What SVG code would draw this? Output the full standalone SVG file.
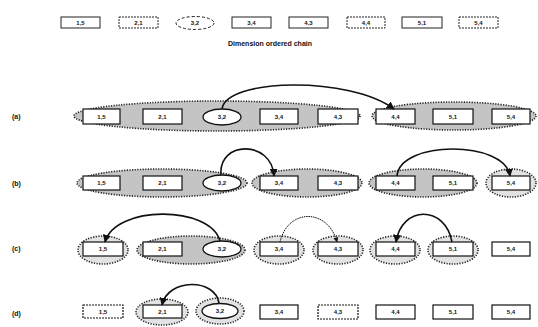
<svg xmlns="http://www.w3.org/2000/svg" width="538" height="327" viewBox="0 0 538 327">
<style>
.bx{fill:#fff;stroke:#111;stroke-width:1.2}
.tb{fill:#fff;stroke:#222;stroke-width:1}
.el{fill:#fff;stroke:#111;stroke-width:1.3}
.grp{fill:#c4c4c4;stroke:#222;stroke-width:1.6;stroke-dasharray:1.2 1.4}
.ring{fill:#e2e2e2;stroke:#222;stroke-width:1.6;stroke-dasharray:1.2 1.4}
.t{font-family:"Liberation Sans",Arial,sans-serif;font-size:6px;font-weight:bold;text-anchor:middle;fill:#111}
.rl{font-family:"Liberation Sans",Arial,sans-serif;font-size:7px;font-weight:bold;fill:#111}
.arc{fill:none;stroke:#111;stroke-width:1.6}
</style>
<defs>
<marker id="ah" viewBox="0 0 10 10" refX="9" refY="5" markerWidth="5" markerHeight="5" orient="auto">
<path d="M0,0 L10,5 L0,10 z" fill="#111"/>
</marker>
</defs>
<rect width="538" height="327" fill="#fff"/>

<g id="top">
<rect class="tb" x="61" y="17" width="39" height="11"/><text class="t" x="80.5" y="24.5">1,5</text>
<rect class="tb" x="119" y="17" width="39" height="11" stroke-dasharray="2 1"/><text class="t" x="138.5" y="24.5">2,1</text>
<ellipse class="tb" cx="195" cy="23" rx="19" ry="6.5" stroke-dasharray="3 2"/><text class="t" x="195" y="25">3,2</text>
<rect class="tb" x="232" y="17" width="39" height="11"/><text class="t" x="251.5" y="24.5">3,4</text>
<rect class="tb" x="289" y="17" width="39" height="11"/><text class="t" x="308.5" y="24.5">4,3</text>
<rect class="tb" x="347" y="17" width="38" height="11" stroke-dasharray="2 1"/><text class="t" x="366" y="24.5">4,4</text>
<rect class="tb" x="402" y="17" width="40" height="11"/><text class="t" x="422" y="24.5">5,1</text>
<rect class="tb" x="459" y="17" width="39" height="11" stroke-dasharray="2 1"/><text class="t" x="478.5" y="24.5">5,4</text>
<text class="t" x="270" y="46" style="font-size:7px">Dimension ordered chain</text>
</g>

<g id="row-a">
<text class="rl" x="12" y="119">(a)</text>
<ellipse class="grp" cx="217" cy="116" rx="143" ry="15"/>
<ellipse class="grp" cx="454" cy="116" rx="82" ry="14"/>
<rect class="bx" x="83" y="109" width="37" height="15"/><text class="t" x="101.5" y="118.5">1,5</text>
<rect class="bx" x="143" y="109" width="39" height="15"/><text class="t" x="162.5" y="118.5">2,1</text>
<ellipse class="el" cx="222" cy="117" rx="19" ry="8"/><text class="t" x="222" y="119">3,2</text>
<rect class="bx" x="260" y="109" width="38" height="15"/><text class="t" x="279" y="118.5">3,4</text>
<rect class="bx" x="318" y="109" width="40" height="15"/><text class="t" x="338" y="118.5">4,3</text>
<rect class="bx" x="376" y="109" width="39" height="15"/><text class="t" x="395.5" y="118.5">4,4</text>
<rect class="bx" x="433" y="109" width="40" height="15"/><text class="t" x="453" y="118.5">5,1</text>
<rect class="bx" x="492" y="109" width="38" height="15"/><text class="t" x="511" y="118.5">5,4</text>
</g>

<g id="row-b">
<text class="rl" x="12" y="186">(b)</text>
<ellipse class="grp" cx="162" cy="183" rx="85" ry="14"/>
<ellipse class="grp" cx="307" cy="183" rx="55" ry="14"/>
<ellipse class="grp" cx="423" cy="183" rx="54" ry="14"/>
<ellipse class="ring" cx="511" cy="183" rx="25" ry="14"/>
<rect class="bx" x="83" y="176" width="37" height="14"/><text class="t" x="101.5" y="185">1,5</text>
<rect class="bx" x="143" y="176" width="39" height="14"/><text class="t" x="162.5" y="185">2,1</text>
<ellipse class="el" cx="222" cy="183" rx="19" ry="8"/><text class="t" x="222" y="185">3,2</text>
<rect class="bx" x="260" y="176" width="38" height="14"/><text class="t" x="279" y="185">3,4</text>
<rect class="bx" x="318" y="176" width="40" height="14"/><text class="t" x="338" y="185">4,3</text>
<rect class="bx" x="376" y="176" width="39" height="14"/><text class="t" x="395.5" y="185">4,4</text>
<rect class="bx" x="433" y="176" width="40" height="14"/><text class="t" x="453" y="185">5,1</text>
<rect class="bx" x="492" y="176" width="38" height="14"/><text class="t" x="511" y="185">5,4</text>
</g>

<g id="row-c">
<text class="rl" x="12" y="251">(c)</text>
<ellipse class="ring" cx="103" cy="250" rx="25" ry="14"/>
<ellipse class="grp" cx="191" cy="250" rx="54" ry="14"/>
<ellipse class="ring" cx="279" cy="250" rx="25" ry="14"/>
<ellipse class="ring" cx="338" cy="250" rx="25" ry="14"/>
<ellipse class="ring" cx="395" cy="250" rx="25" ry="14"/>
<ellipse class="ring" cx="453" cy="250" rx="25" ry="14"/>
<rect class="bx" x="83" y="242" width="40" height="14"/><text class="t" x="103" y="251">1,5</text>
<rect class="bx" x="143" y="242" width="39" height="14"/><text class="t" x="162.5" y="251">2,1</text>
<ellipse class="el" cx="222" cy="249" rx="19" ry="8"/><text class="t" x="222" y="251">3,2</text>
<rect class="bx" x="260" y="242" width="38" height="14"/><text class="t" x="279" y="251">3,4</text>
<rect class="bx" x="318" y="242" width="40" height="14"/><text class="t" x="338" y="251">4,3</text>
<rect class="bx" x="376" y="242" width="39" height="14"/><text class="t" x="395.5" y="251">4,4</text>
<rect class="bx" x="433" y="242" width="40" height="14"/><text class="t" x="453" y="251">5,1</text>
<rect class="bx" x="492" y="242" width="38" height="14"/><text class="t" x="511" y="251">5,4</text>
</g>

<g id="row-d">
<text class="rl" x="12" y="316">(d)</text>
<ellipse class="ring" cx="162" cy="312" rx="26" ry="13"/>
<ellipse class="ring" cx="220" cy="311" rx="24" ry="13"/>
<rect class="bx" x="83" y="305" width="40" height="13" stroke-dasharray="2 1"/><text class="t" x="103" y="313.5">1,5</text>
<rect class="bx" x="143" y="305" width="39" height="13"/><text class="t" x="162.5" y="313.5">2,1</text>
<ellipse class="el" cx="220" cy="311" rx="18" ry="7.5"/><text class="t" x="220" y="313">3,2</text>
<rect class="bx" x="260" y="305" width="38" height="14"/><text class="t" x="279" y="314">3,4</text>
<rect class="bx" x="318" y="305" width="40" height="14" stroke-dasharray="2 1"/><text class="t" x="338" y="314">4,3</text>
<rect class="bx" x="376" y="305" width="39" height="14"/><text class="t" x="395.5" y="314">4,4</text>
<rect class="bx" x="433" y="305" width="40" height="14"/><text class="t" x="453" y="314">5,1</text>
<rect class="bx" x="492" y="305" width="38" height="14"/><text class="t" x="511" y="314">5,4</text>
</g>

<g id="connectors">
<path class="arc" d="M222,109 C226,78 350,76 394,109" marker-end="url(#ah)"/>
<path class="arc" d="M221,175 C218,140 272,140 274,176" marker-end="url(#ah)"/>
<path class="arc" d="M397,176 C400,140 505,140 510,176" marker-end="url(#ah)"/>
<path class="arc" d="M220,241 C210,205 115,205 105,242" marker-end="url(#ah)"/>
<path class="arc" d="M280,242 C288,208 328,208 337,242" marker-end="url(#ah)" style="stroke-width:1;stroke-dasharray:1.5 0.8"/>
<path class="arc" d="M452,242 C445,205 402,205 396,242" marker-end="url(#ah)"/>
<path class="arc" d="M219,303 C215,278 168,278 162,305" marker-end="url(#ah)"/>
</g>
</svg>
